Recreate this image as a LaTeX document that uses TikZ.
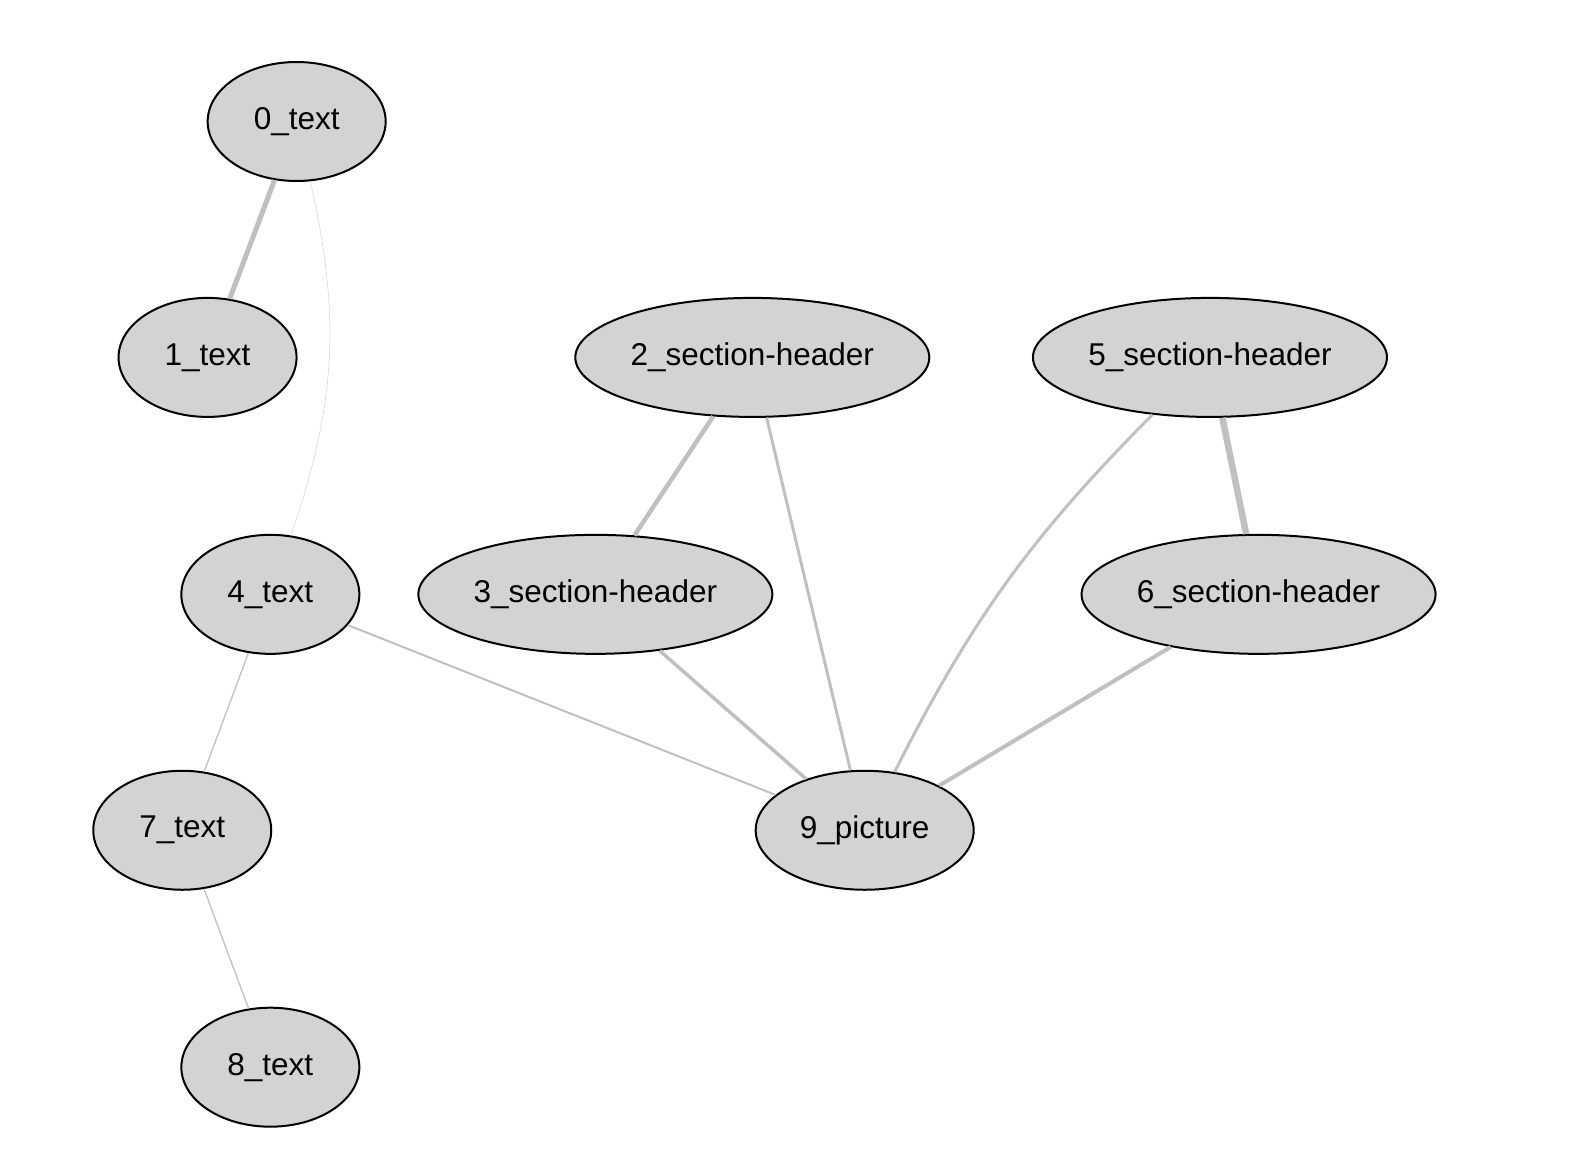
\documentclass[tikz,border=0pt]{standalone}
\usepackage{fontspec}
\setmainfont{Liberation Sans}
\usetikzlibrary{shapes.geometric}
\definecolor{nodefill}{HTML}{D3D3D3}
\definecolor{edgecol}{HTML}{C0C0C0}
\tikzset{
  gnode/.style={ellipse, draw=black, line width=2pt, fill=nodefill, inner sep=0pt,
    minimum height=119pt, font=\fontsize{31.5}{34}\selectfont},
  smallnode/.style={gnode, minimum width=178pt},
  bignode/.style={gnode, minimum width=354pt},
  edge/.style={draw=edgecol}
}
\begin{document}
\begin{tikzpicture}[x=1.0125pt,y=-1.0125pt]
\useasboundingbox (0,0) rectangle (1566.4,1139.7);
\node[smallnode] (n0) at (293,120) {0\_text};
\node[smallnode] (n1) at (205,353) {1\_text};
\node[bignode] (n2) at (743,353) {2\_section-header};
\node[bignode] (n5) at (1195,353) {5\_section-header};
\node[smallnode] (n4) at (267,587) {4\_text};
\node[bignode] (n3) at (588,587) {3\_section-header};
\node[bignode] (n6) at (1243,587) {6\_section-header};
\node[smallnode] (n7) at (180,820) {7\_text};
\node[gnode, minimum width=218pt] (n9) at (854,820) {9\_picture};
\node[smallnode] (n8) at (267,1054) {8\_text};
\draw[edge, line width=5pt] (n0) -- (n1);
\draw[edge, line width=0.6pt, draw=gray!30] (n0) to[bend left=16] (n4);
\draw[edge, line width=4.5pt] (n2) -- (n3);
\draw[edge, line width=3pt] (n2) -- (n9);
\draw[edge, line width=3pt] (n5) to[bend right=9] (n9);
\draw[edge, line width=6.5pt] (n5) -- (n6);
\draw[edge, line width=3.5pt] (n3) -- (n9);
\draw[edge, line width=4pt] (n6) -- (n9);
\draw[edge, line width=2pt] (n4) -- (n9);
\draw[edge, line width=1.3pt] (n4) -- (n7);
\draw[edge, line width=1.3pt] (n7) -- (n8);
\end{tikzpicture}
\end{document}
